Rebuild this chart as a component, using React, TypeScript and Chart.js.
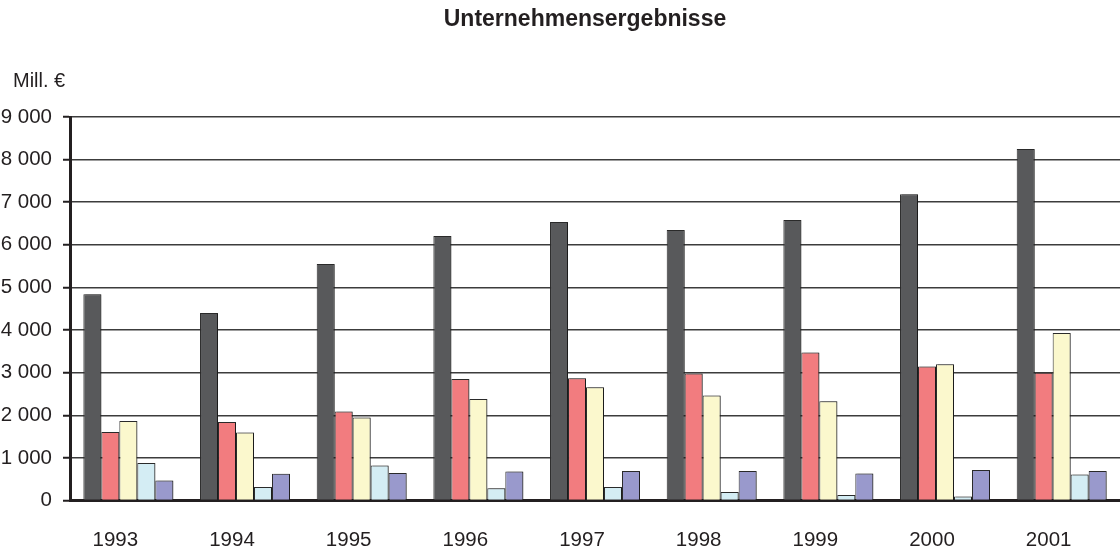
import React, { useEffect, useRef } from "react";
import { Chart, registerables } from "chart.js";

Chart.register(...registerables);

const years = ["1993", "1994", "1995", "1996", "1997", "1998", "1999", "2000", "2001"];
const series1 = [4840, 4400, 5550, 6210, 6535, 6350, 6580, 7190, 8250];
const series2 = [1605, 1840, 2090, 2850, 2870, 2980, 3475, 3145, 3000];
const series3 = [1865, 1595, 1950, 2380, 2655, 2465, 2330, 3200, 3930];
const series4 = [878, 315, 822, 290, 315, 197, 127, 94, 610];
const series5 = [470, 627, 643, 681, 690, 690, 634, 714, 690];
const seriesNames = ["Reihe 1", "Reihe 2", "Reihe 3", "Reihe 4", "Reihe 5"];
const seriesColors = ["#58595b", "#f27c7f", "#fbf8cd", "#d4edf4", "#9999cc"];
const yTickValues = [0, 1000, 2000, 3000, 4000, 5000, 6000, 7000, 8000, 9000];
const titleText = "Unternehmensergebnisse";
const unitText = "Mill. €";

const FONT = "'Liberation Sans', Arial, sans-serif";

const fmt = (v: number) => String(v).replace(/\B(?=(\d{3})+(?!\d))/g, " ");

export default function App() {
  const ref = useRef<HTMLCanvasElement | null>(null);

  useEffect(() => {
    if (!ref.current) return;
    const all = [series1, series2, series3, series4, series5];
    const decor = {
      id: "decor",
      beforeDatasetsDraw(chart: any) {
        const ctx = chart.ctx;
        ctx.save();
        ctx.shadowColor = "rgba(0,0,0,0.35)";
        ctx.shadowOffsetX = 2;
        ctx.shadowOffsetY = 0;
        ctx.shadowBlur = 0;
      },
      afterDatasetsDraw(chart: any) {
        chart.ctx.restore();
      },
      afterDraw(chart: any) {
        const ctx = chart.ctx;
        ctx.save();
        ctx.fillStyle = "#231f20";
        ctx.font = `bold 23px ${FONT}`;
        ctx.textAlign = "center";
        ctx.textBaseline = "alphabetic";
        ctx.fillText(titleText, 585, 26);
        ctx.font = `20px ${FONT}`;
        ctx.textAlign = "left";
        ctx.fillText(unitText, 13, 87);
        ctx.restore();
      },
    };
    const chart = new Chart(ref.current, {
      type: "bar",
      data: {
        labels: years,
        datasets: all.map((d, i) => ({
          label: seriesNames[i],
          data: d,
          backgroundColor: seriesColors[i],
          borderColor: "#2a2a2a",
          borderWidth: 1,
          categoryPercentage: 0.771,
          barPercentage: 1,
        })),
      },
      options: {
        responsive: false,
        animation: false,
        layout: { padding: { top: 117, left: 0, right: 0, bottom: 0 } },
        plugins: { legend: { display: false }, title: { display: false }, tooltip: { enabled: false } },
        scales: {
          x: {
            grid: { display: false, drawTicks: false },
            border: { display: true, color: "#231f20", width: 3 },
            ticks: {
              color: "#231f20",
              font: { family: FONT, size: 20.5 },
              padding: 28,
              labelOffset: -13,
              maxRotation: 0,
            },
            afterFit(scale: any) {
              scale.height = 55.5;
            },
          },
          y: {
            min: 0,
            max: 9000,
            afterBuildTicks(scale: any) {
              scale.ticks = yTickValues.map((v) => ({ value: v }));
            },
            grid: {
              color: "#3c3c3c",
              lineWidth: 1.5,
              drawTicks: true,
              tickLength: 7,
              tickColor: "#231f20",
              tickWidth: 2,
            },
            border: { display: true, color: "#231f20", width: 3 },
            ticks: {
              color: "#231f20",
              font: { family: FONT, size: 20.5 },
              padding: 11,
              callback: (v: any) => fmt(Number(v)),
            },
            afterFit(scale: any) {
              scale.width = 70;
            },
          },
        },
      },
      plugins: [decor],
    });
    return () => chart.destroy();
  }, []);

  return (
    <div style={{ position: "absolute", left: 0, top: 0, width: 1120, height: 556, overflow: "hidden", background: "#fff" }}>
      <canvas ref={ref} width={1120} height={556} style={{ width: 1120, height: 556, display: "block" }} />
    </div>
  );
}
